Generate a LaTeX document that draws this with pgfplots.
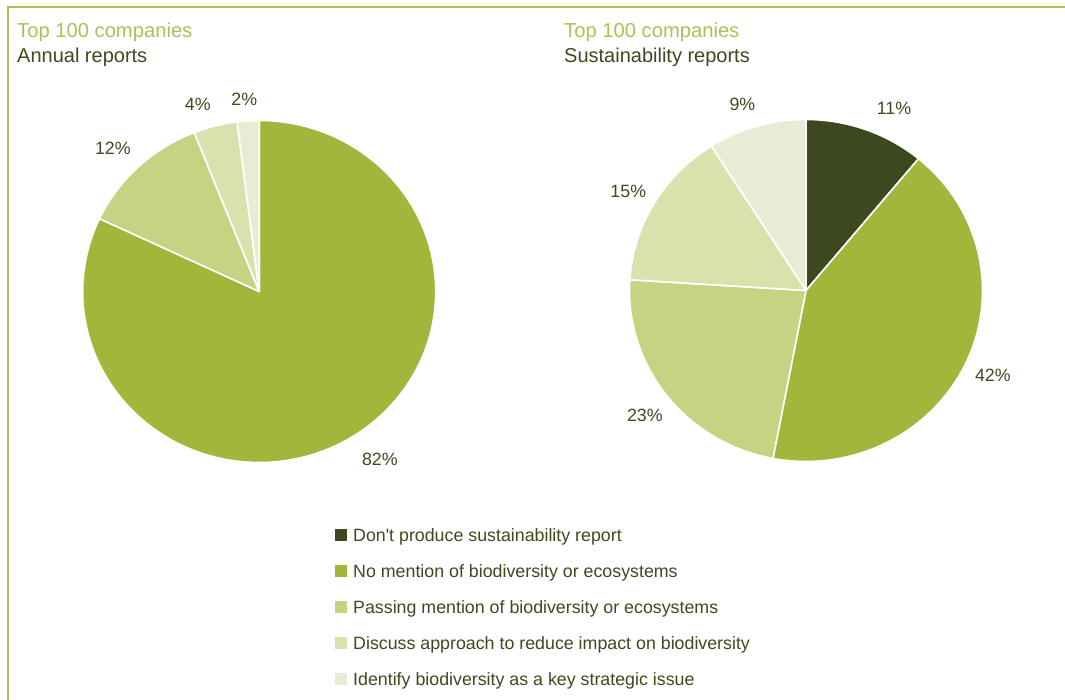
\documentclass[border=0pt]{standalone}
\usepackage{fontspec}
\setmainfont{Liberation Sans}
\usepackage{pgfplots}
\pgfplotsset{compat=1.18}
\definecolor{cA}{HTML}{3D4820}
\definecolor{cB}{HTML}{A3B53B}
\definecolor{cC}{HTML}{C7D383}
\definecolor{cD}{HTML}{DAE1AD}
\definecolor{cE}{HTML}{E8ECD5}
\definecolor{borderGreen}{HTML}{A9C158}
\definecolor{txt}{HTML}{3C4A1E}
\definecolor{ttl}{HTML}{A9C158}

\def\cum{0}
% value, colour, label nudge x, label nudge y (bp)
\newcommand{\slice}[4]{%
  \pgfmathsetmacro\aS{90-3.6*\cum}%
  \pgfmathsetmacro\aE{90-3.6*(\cum+#1)}%
  \pgfmathsetmacro\aM{(\aS+\aE)/2}%
  \fill[#2, draw=white, line width=1.6bp, line join=round] (axis cs:0,0) -- (axis cs:{cos(\aS)},{sin(\aS)}) arc[start angle=\aS, end angle=\aE, x radius=176.5bp, y radius=171bp] -- cycle;
  \node[font=\fontsize{17.8bp}{20bp}\selectfont, text=txt, xshift=#3bp, yshift=#4bp] at (axis cs:{1.17*cos(\aM)},{1.16*sin(\aM)}) {#1\%};
  \pgfmathsetmacro\cumnew{\cum+#1}\global\let\cum\cumnew
}
\newcommand{\legitem}[3]{% index, colour, text
  \pgfmathsetmacro\yc{700-(535+36*#1)}%
  \pgfmathsetmacro\yb{700-(541.5+36*#1)}%
  \fill[#2] (335bp,\yc bp-6bp) rectangle (347bp,\yc bp+6bp);
  \node[anchor=base west, inner sep=0pt, text=txt, font=\fontsize{17.8bp}{20bp}\selectfont] at (353bp,\yb bp) {#3};
}

\begin{document}
\begin{tikzpicture}
\path[use as bounding box] (0,0) rectangle (1065bp,700bp);
\draw[draw=borderGreen, line width=2bp] (7.5bp,0) -- (7.5bp,692.5bp) -- (1065bp,692.5bp);

% titles
\node[anchor=base west, inner sep=0pt, text=ttl, font=\fontsize{20.2bp}{22bp}\selectfont] at (17bp,662bp) {Top 100 companies};
\node[anchor=base west, inner sep=0pt, text=txt, font=\fontsize{20bp}{22bp}\selectfont] at (17bp,637bp) {Annual reports};
\node[anchor=base west, inner sep=0pt, text=ttl, font=\fontsize{20.2bp}{22bp}\selectfont] at (564bp,662bp) {Top 100 companies};
\node[anchor=base west, inner sep=0pt, text=txt, font=\fontsize{20bp}{22bp}\selectfont] at (564bp,637bp) {Sustainability reports};

% left pie: annual reports
\begin{axis}[at={(259.2bp,408.5bp)}, anchor=origin, x=176.5bp, y=171bp,
  xmin=-1.3, xmax=1.3, ymin=-1.3, ymax=1.3, hide axis, clip=false]
\addplot[draw=none] coordinates {(0,0)};
\pgfplotsextra{\gdef\cum{0}%
  \slice{82}{cB}{10}{0}\slice{12}{cC}{-5}{-1}\slice{4}{cD}{-10}{-5}\slice{2}{cE}{-2}{-6}}
\end{axis}

% right pie: sustainability reports
\begin{axis}[at={(806bp,409.5bp)}, anchor=origin, x=176.5bp, y=171bp,
  xmin=-1.3, xmax=1.3, ymin=-1.3, ymax=1.3, hide axis, clip=false]
\addplot[draw=none] coordinates {(0,0)};
\pgfplotsextra{\gdef\cum{0}%
  \slice{11}{cA}{18}{-5}\slice{42}{cB}{0}{0}\slice{23}{cC}{2}{-3}\slice{15}{cD}{0}{-2}\slice{9}{cE}{-6}{-4}}
\end{axis}

% legend
\legitem{0}{cA}{Don\textquotesingle t produce sustainability report}
\legitem{1}{cB}{No mention of biodiversity or ecosystems}
\legitem{2}{cC}{Passing mention of biodiversity or ecosystems}
\legitem{3}{cD}{Discuss approach to reduce impact on biodiversity}
\legitem{4}{cE}{Identify biodiversity as a key strategic issue}
\end{tikzpicture}
\end{document}
